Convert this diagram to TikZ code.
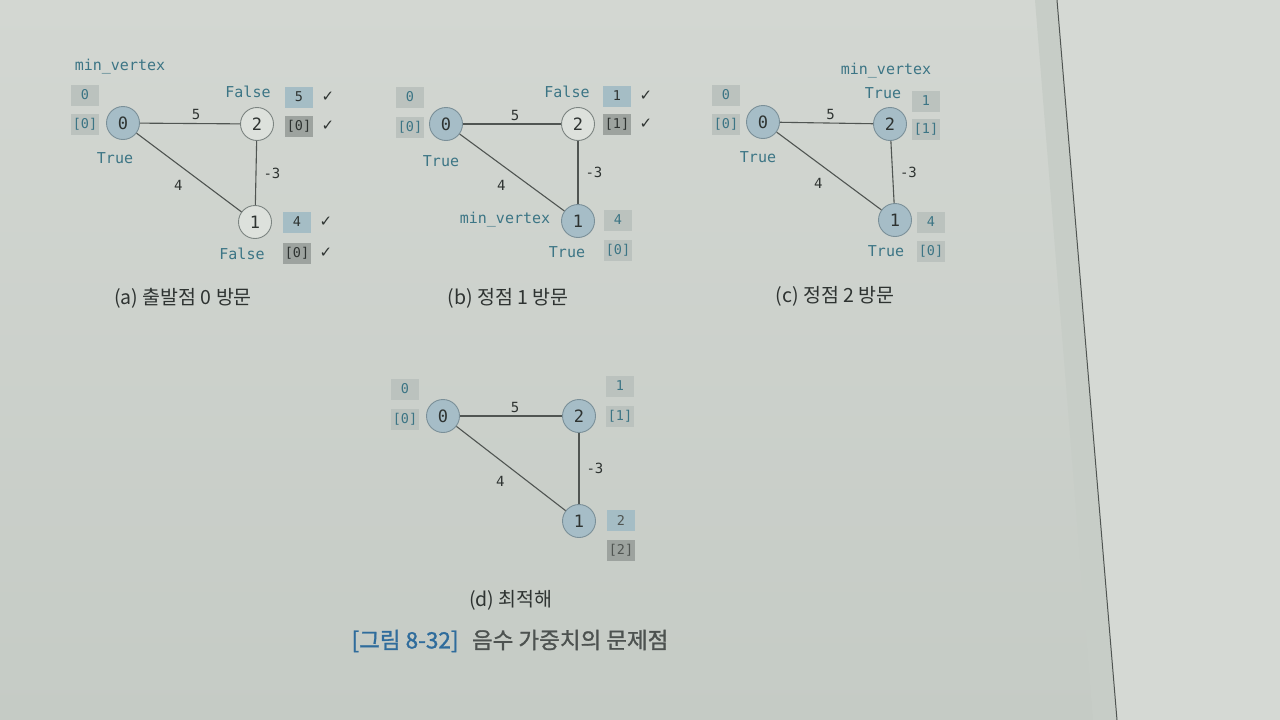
\documentclass[tikz,border=0pt]{standalone}
\usepackage{fontspec}
\newfontfamily\mono{DejaVu Sans Mono}
\newfontfamily\kr{Noto Sans CJK KR}
\newfontfamily\krb[FakeBold=1.2]{Noto Sans CJK KR}
\newfontfamily\sym{DejaVu Sans}
\definecolor{bgtop}{HTML}{D3D7D2}
\definecolor{bgbot}{HTML}{C5CBC5}
\definecolor{pageR}{HTML}{D5D9D4}
\definecolor{gutter}{HTML}{C7CDC7}
\definecolor{nfill}{HTML}{A6BDC7}
\definecolor{nedge}{HTML}{7A8F98}
\definecolor{ofill}{HTML}{DDE1DC}
\definecolor{oedge}{HTML}{7C8481}
\definecolor{gboxc}{HTML}{BBC2BE}
\definecolor{bboxc}{HTML}{A5BDC5}
\definecolor{dboxc}{HTML}{9DA39F}
\definecolor{tealtxt}{HTML}{3C7585}
\definecolor{ink}{HTML}{2E3331}
\definecolor{edgec}{HTML}{505552}
\definecolor{capblue}{HTML}{2F6C9C}
\tikzset{
  vfill/.style={circle, draw=nedge, fill=nfill, line width=0.9pt, minimum size=33pt, inner sep=0pt, text=ink, font=\mono\fontsize{17}{17}\selectfont},
  vopen/.style={vfill, draw=oedge, fill=ofill},
  gbox/.style={rectangle, fill=gboxc, minimum width=28pt, minimum height=21pt, inner sep=0pt, text=tealtxt, font=\mono\fontsize{13.5}{13.5}\selectfont},
  bbox/.style={gbox, fill=bboxc, text=ink},
  dbox/.style={gbox, fill=dboxc, text=ink},
  edge/.style={draw=edgec, line width=1.1pt},
  elab/.style={text=ink, font=\mono\fontsize{14}{14}\selectfont, inner sep=1pt},
  tf/.style={text=tealtxt, font=\mono\fontsize{15}{15}\selectfont, inner sep=0pt},
  chk/.style={text=ink, font=\sym\fontsize{15}{15}\selectfont, inner sep=0pt},
  subcap/.style={text=ink, font=\kr\fontsize{19.5}{19.5}\selectfont, inner sep=0pt},
  dlab/.style={elab, midway, below left=2pt, xshift=-3pt, yshift=-4pt},
}
\begin{document}
\begin{tikzpicture}[x=1pt, y=-1pt]
\useasboundingbox (0,0) rectangle (1280,720);
\shade[top color=bgtop, bottom color=bgbot] (0,0) rectangle (1280,720);
\fill[gutter] (1035,0) -- (1057,0) -- (1117,720) -- (1093,720) -- cycle;
\fill[pageR] (1057,0) -- (1280,0) -- (1280,720) -- (1117,720) -- cycle;
\draw[edgec, line width=1pt] (1057,0) -- (1117,720);

% ---------- (a) ----------
\node[vfill] (a0) at (123,123) {0};
\node[vopen] (a2) at (257,124) {2};
\node[vopen] (a1) at (255,222) {1};
\draw[edge] (a0) -- (a2) node[elab, midway, above=2pt, xshift=6pt] (a5) {5};
\draw[edge] (a2) -- (a1) node[elab, midway, right=6pt] (a3) {-3};
\draw[edge] (a0) -- (a1) node[dlab] (a4) {4};
\node[tf] (amv) at (120,67) {min\_vertex};
\node[gbox] (a0d) at (85,95) {0};
\node[gbox] (a0p) at (85,124) {[0]};
\node[tf] (a0t) at (115,158) {True};
\node[tf] (a2t) at (248,92) {False};
\node[bbox] (a2d) at (299,97) {5};
\node[dbox] (a2p) at (299,126) {[0]};
\node[chk] (a2dc) at (328,97) {✓};
\node[chk] (a2pc) at (328,126) {✓};
\node[bbox] (a1d) at (297,222) {4};
\node[dbox] (a1p) at (297,253) {[0]};
\node[chk] (a1dc) at (326,222) {✓};
\node[chk] (a1pc) at (326,253) {✓};
\node[tf] (a1t) at (242,254) {False};
\node[subcap] (acap) at (183,298) {(a) 출발점 0 방문};

% ---------- (b) ----------
\node[vfill] (b0) at (446,124) {0};
\node[vopen] (b2) at (578,124) {2};
\node[vfill] (b1) at (578,221) {1};
\draw[edge] (b0) -- (b2) node[elab, midway, above=2pt, xshift=3pt] (b5) {5};
\draw[edge] (b2) -- (b1) node[elab, midway, right=6pt] (b3) {-3};
\draw[edge] (b0) -- (b1) node[dlab] (b4) {4};
\node[gbox] (b0d) at (410,97) {0};
\node[gbox] (b0p) at (410,127) {[0]};
\node[tf] (b0t) at (441,161) {True};
\node[tf] (b2t) at (567,92) {False};
\node[bbox] (b2d) at (617,96) {1};
\node[dbox] (b2p) at (617,124) {[1]};
\node[chk] (b2dc) at (646,96) {✓};
\node[chk] (b2pc) at (646,124) {✓};
\node[tf] (bmv) at (505,220) {min\_vertex};
\node[gbox] (b1d) at (618,220) {4};
\node[gbox] (b1p) at (618,250) {[0]};
\node[tf] (b1t) at (567,252) {True};
\node[subcap] (bcap) at (508,298) {(b) 정점 1 방문};

% ---------- (c) ----------
\node[vfill] (c0) at (763,122) {0};
\node[vfill] (c2) at (890,124) {2};
\node[vfill] (c1) at (895,220) {1};
\draw[edge] (c0) -- (c2) node[elab, midway, above=2pt, xshift=4pt] (c5) {5};
\draw[edge] (c2) -- (c1) node[elab, midway, right=6pt] (c3) {-3};
\draw[edge] (c0) -- (c1) node[dlab] (c4) {4};
\node[gbox] (c0d) at (726,95) {0};
\node[gbox] (c0p) at (726,124) {[0]};
\node[tf] (c0t) at (758,157) {True};
\node[tf] (cmv) at (886,71) {min\_vertex};
\node[tf] (c2t) at (883,93) {True};
\node[gbox] (c2d) at (926,101) {1};
\node[gbox] (c2p) at (926,129) {[1]};
\node[gbox] (c1d) at (931,222) {4};
\node[gbox] (c1p) at (931,251) {[0]};
\node[tf] (c1t) at (886,251) {True};
\node[subcap] (ccap) at (835,296) {(c) 정점 2 방문};

% ---------- (d) ----------
\node[vfill] (d0) at (443,416) {0};
\node[vfill] (d2) at (579,416) {2};
\node[vfill] (d1) at (579,521) {1};
\draw[edge] (d0) -- (d2) node[elab, midway, above=2pt, xshift=4pt] (d5) {5};
\draw[edge] (d2) -- (d1) node[elab, midway, right=6pt] (d3) {-3};
\draw[edge] (d0) -- (d1) node[dlab] (d4) {4};
\node[gbox] (d0d) at (405,389) {0};
\node[gbox] (d0p) at (405,419) {[0]};
\node[gbox] (d2d) at (620,386) {1};
\node[gbox] (d2p) at (620,416) {[1]};
\node[bbox, text=edgec] (d1d) at (621,520) {2};
\node[dbox, text=edgec] (d1p) at (621,550) {[2]};
\node[subcap] (dcap) at (511,600) {(d) 최적해};

% ---------- title ----------
\node[font=\krb\fontsize{22.5}{22.5}\selectfont, inner sep=0pt] (title) at (510,641)
  {\textcolor{capblue}{[그림 8-32]}\hspace{0.6em}\textcolor{ink!85}{음수 가중치의 문제점}};
\end{tikzpicture}
\end{document}
